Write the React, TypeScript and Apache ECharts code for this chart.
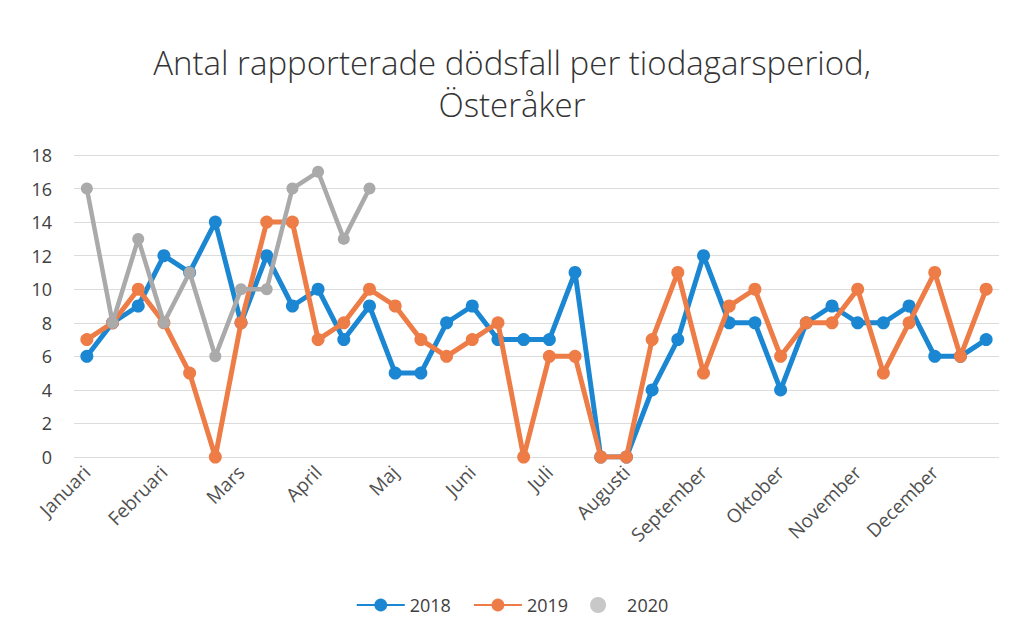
import React, { useEffect, useRef } from "react";
import * as echarts from "echarts";

const months = ["Januari", "Februari", "Mars", "April", "Maj", "Juni", "Juli", "Augusti", "September", "Oktober", "November", "December"];
const categories: string[] = [];
months.forEach((m) => { categories.push(m, m + " 2", m + " 3"); });

const s2018 = [6, 8, 9, 12, 11, 14, 8, 12, 9, 10, 7, 9, 5, 5, 8, 9, 7, 7, 7, 11, 0, 0, 4, 7, 12, 8, 8, 4, 8, 9, 8, 8, 9, 6, 6, 7];
const s2019 = [7, 8, 10, 8, 5, 0, 8, 14, 14, 7, 8, 10, 9, 7, 6, 7, 8, 0, 6, 6, 0, 0, 7, 11, 5, 9, 10, 6, 8, 8, 10, 5, 8, 11, 6, 10];
const s2020 = [16, 8, 13, 8, 11, 6, 10, 10, 16, 17, 13, 16];

const title = "Antal rapporterade dödsfall per tiodagarsperiod,\nÖsteråker";

export default function App() {
  const ref = useRef<HTMLDivElement>(null);
  useEffect(() => {
    if (!ref.current) return;
    const chart = echarts.init(ref.current, undefined, { renderer: "svg" });
    const font = "'Open Sans', 'Noto Sans', sans-serif";
    const mk = (name: string, data: number[], color: string, z: number, width: number, size: number) => ({
      name,
      type: "line",
      data,
      z,
      symbol: "circle",
      symbolSize: size,
      itemStyle: { color },
      lineStyle: { color, width },
      emphasis: { disabled: true },
    });
    chart.setOption({
      animation: false,
      backgroundColor: "#ffffff",
      textStyle: { fontFamily: font },
      title: {
        text: title,
        left: "center",
        top: 36,
        textStyle: { fontFamily: font, fontWeight: 300, fontSize: 33, color: "#333333", lineHeight: 42 },
      },
      legend: {
        bottom: 18,
        left: "center",
        itemGap: 22,
        itemWidth: 48,
        itemHeight: 16,
        textStyle: { fontFamily: font, fontSize: 18, color: "#404040" },
        data: [
          { name: "2018" },
          { name: "2019" },
          { name: "2020", icon: "circle", itemStyle: { color: "#c8c8c8" } },
        ],
      },
      grid: { left: 74, right: 25, top: 155, bottom: 180, containLabel: false },
      xAxis: {
        type: "category",
        data: categories,
        boundaryGap: true,
        axisLine: { show: false },
        axisTick: { show: false },
        axisLabel: {
          interval: 2,
          rotate: 45,
          margin: 12,
          fontSize: 19,
          color: "#505050",
          fontFamily: font,
          formatter: (v: string) => v.split(" ")[0],
        },
      },
      yAxis: {
        type: "value",
        min: 0,
        max: 18,
        interval: 2,
        axisLine: { show: false },
        axisTick: { show: false },
        axisLabel: { fontSize: 18, color: "#404040", margin: 22, fontFamily: font },
        splitLine: { lineStyle: { color: "#dcdcdc", width: 1 } },
      },
      series: [
        mk("2018", s2018, "#1b87d2", 1, 5, 13),
        mk("2019", s2019, "#ee7c46", 2, 5, 13),
        mk("2020", s2020, "#aaaaaa", 3, 4.5, 12),
      ],
    });
    return () => chart.dispose();
  }, []);
  return <div ref={ref} style={{ position: "fixed", left: 0, top: 0, width: 1024, height: 637 }} />;
}
